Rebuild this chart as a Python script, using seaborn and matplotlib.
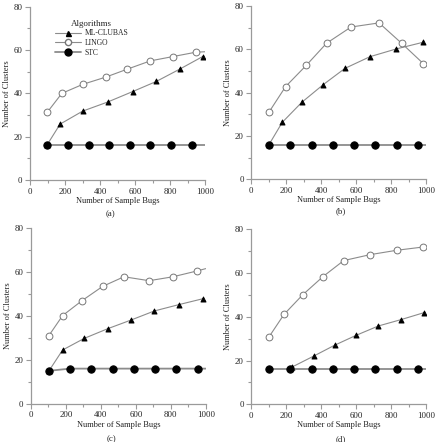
import matplotlib
matplotlib.use("Agg")
import matplotlib.pyplot as plt
from matplotlib.lines import Line2D
from matplotlib.ticker import MultipleLocator
import seaborn as sns

sns.set_theme(style="ticks")
plt.rcParams['font.family'] = ['Liberation Serif', 'DejaVu Serif']

# ---- data ----
series_names = ["ML-CLUBAS", "LINGO", "STC"]
panel_labels = ["(a)", "(b)", "(c)", "(d)"]
x_ticks = [0, 200, 400, 600, 800, 1000]
y_ticks = [0, 20, 40, 60, 80]

# panel (a)
a_ml_x = [96, 172, 301, 444, 586, 722, 856, 987]
a_ml_y = [16, 25.8, 31.8, 36, 40.8, 45.5, 51.2, 57]
a_lingo_x = [98, 182, 303, 433, 557, 688, 818, 948]
a_lingo_y = [31.2, 40, 44.2, 47.5, 51.2, 55, 57, 59]
a_lingo_tail = [(1000, 59.2)]
a_stc_x = [96, 216, 335, 452, 571, 688, 807, 924]
a_stc_y = [16, 16, 16, 16, 16, 16, 16, 16]
a_stc_tail = [(1000, 16)]

# panel (b)
b_ml_x = [101, 177, 288, 411, 535, 678, 829, 979]
b_ml_y = [16, 26.3, 35.5, 43.7, 51.2, 56.6, 60.2, 63.2]
b_lingo_x = [101, 196, 314, 430, 570, 730, 859, 983]
b_lingo_y = [31, 42.8, 52.6, 62.8, 70.3, 72.2, 62.8, 53.4]
b_stc_x = [101, 221, 345, 469, 587, 707, 830, 954]
b_stc_y = [16, 16, 16, 16, 16, 16, 16, 16]
b_stc_tail = [(1000, 16)]

# panel (c)
c_ml_x = [103, 181, 305, 439, 574, 706, 847, 985]
c_ml_y = [15, 24.5, 29.8, 34.2, 38.2, 42.3, 45.2, 47.9]
c_lingo_x = [101, 181, 292, 410, 532, 676, 813, 948]
c_lingo_y = [30.9, 40.2, 47, 53.5, 57.9, 56.1, 57.9, 60.5]
c_lingo_tail = [(1000, 61.6)]
c_stc_x = [103, 223, 343, 467, 588, 710, 832, 954]
c_stc_y = [15, 16, 16, 16, 16, 16, 16, 16]
c_stc_tail = [(1000, 16)]

# panel (d)
d_ml_head = [(215, 16)]
d_ml_x = [232, 358, 476, 598, 726, 855, 987]
d_ml_y = [17, 22.1, 27, 31.5, 35.8, 38.7, 41.9]
d_lingo_x = [101, 187, 293, 410, 528, 678, 830, 981]
d_lingo_y = [30.8, 41.1, 50, 58.4, 65.7, 68.4, 70.4, 71.9]
d_stc_x = [101, 221, 345, 467, 587, 709, 831, 955]
d_stc_y = [16, 16, 16, 16, 16, 16, 16, 16]
d_stc_tail = [(1000, 16)]

panels = [
    dict(ml=(a_ml_x, a_ml_y, [], []), lingo=(a_lingo_x, a_lingo_y, [], a_lingo_tail),
         stc=(a_stc_x, a_stc_y, [], a_stc_tail)),
    dict(ml=(b_ml_x, b_ml_y, [], []), lingo=(b_lingo_x, b_lingo_y, [], []),
         stc=(b_stc_x, b_stc_y, [], b_stc_tail)),
    dict(ml=(c_ml_x, c_ml_y, [], []), lingo=(c_lingo_x, c_lingo_y, [], c_lingo_tail),
         stc=(c_stc_x, c_stc_y, [], c_stc_tail)),
    dict(ml=(d_ml_x, d_ml_y, d_ml_head, []), lingo=(d_lingo_x, d_lingo_y, [], []),
         stc=(d_stc_x, d_stc_y, [], d_stc_tail)),
]

W, H = 438, 442
fig = plt.figure(figsize=(W / 100, H / 100), dpi=100)

# axes boxes in pixel coords: left, right, top, bottom
boxes = [(30, 205, 6.7, 180), (251.3, 426.3, 6, 179.3),
         (31, 205.7, 228.3, 403.7), (251.3, 426.3, 229.3, 404.3)]
label_pos = [(110, 214), (341, 211), (111, 439), (341, 439)]

line_col = "#8c8c8c"
spine_col = "#9a9a9a"
styles = {
    "ml": dict(marker="^", s=13, color="black", edgecolor="black", lw=0.8, z=3),
    "lingo": dict(marker="o", s=24, color="white", edgecolor="#777777", lw=0.8, z=3),
    "stc": dict(marker="o", s=28, color="black", edgecolor="black", lw=1.3, z=4),
}

for i, (p, box) in enumerate(zip(panels, boxes)):
    l, r, t, b = box
    ax = fig.add_axes([l / W, 1 - b / H, (r - l) / W, (b - t) / H])
    for key in ["ml", "lingo", "stc"]:
        xs, ys, head, tail = p[key]
        st = styles[key]
        lx = [h[0] for h in head] + list(xs) + [q[0] for q in tail]
        ly = [h[1] for h in head] + list(ys) + [q[1] for q in tail]
        sns.lineplot(x=lx, y=ly, ax=ax, color=line_col, linewidth=st["lw"],
                     sort=False, estimator=None, zorder=st["z"] - 1)
        sns.scatterplot(x=xs, y=ys, ax=ax, marker=st["marker"], s=st["s"],
                        color=st["color"], edgecolor=st["edgecolor"],
                        linewidth=0.7, zorder=st["z"])
    ax.set_xlim(0, 1000)
    ax.set_ylim(0, 80)
    ax.set_xticks(x_ticks)
    ax.set_yticks(y_ticks)
    ax.xaxis.set_minor_locator(MultipleLocator(100))
    ax.yaxis.set_minor_locator(MultipleLocator(10))
    ax.tick_params(which="both", direction="out", color=spine_col, width=0.8,
                   labelsize=6.3, labelcolor="#222222", pad=2)
    ax.tick_params(which="major", length=3.5)
    ax.tick_params(which="minor", length=2.5)
    for s in ["top", "right"]:
        ax.spines[s].set_visible(False)
    for s in ["left", "bottom"]:
        ax.spines[s].set_color(spine_col)
        ax.spines[s].set_linewidth(0.9)
    ax.set_xlabel("Number of Sample Bugs", fontsize=6.0, color="#222222", labelpad=1)
    ax.set_ylabel("Number of Clusters", fontsize=6.0, color="#222222", labelpad=2)
    fig.text(label_pos[i][0] / W, 1 - label_pos[i][1] / H, panel_labels[i],
             fontsize=6.3, ha="center", va="center", color="#222222")
    if i == 0:
        handles = [
            Line2D([], [], color=line_col, lw=0.8, marker="^", markersize=3.6,
                   markerfacecolor="black", markeredgecolor="black"),
            Line2D([], [], color=line_col, lw=0.8, marker="o", markersize=4.5,
                   markerfacecolor="white", markeredgecolor="#777777"),
            Line2D([], [], color=line_col, lw=1.3, marker="o", markersize=5,
                   markerfacecolor="black", markeredgecolor="black"),
        ]
        leg = ax.legend(handles, series_names, title="Algorithms", loc="upper left",
                        bbox_to_anchor=(0.12, 0.945), frameon=False, fontsize=5.5,
                        title_fontsize=6.5, handlelength=3.4, handletextpad=0.5,
                        labelspacing=0.22, borderpad=0)
        leg._legend_box.sep = 1

fig.savefig("out.png", dpi=100)
